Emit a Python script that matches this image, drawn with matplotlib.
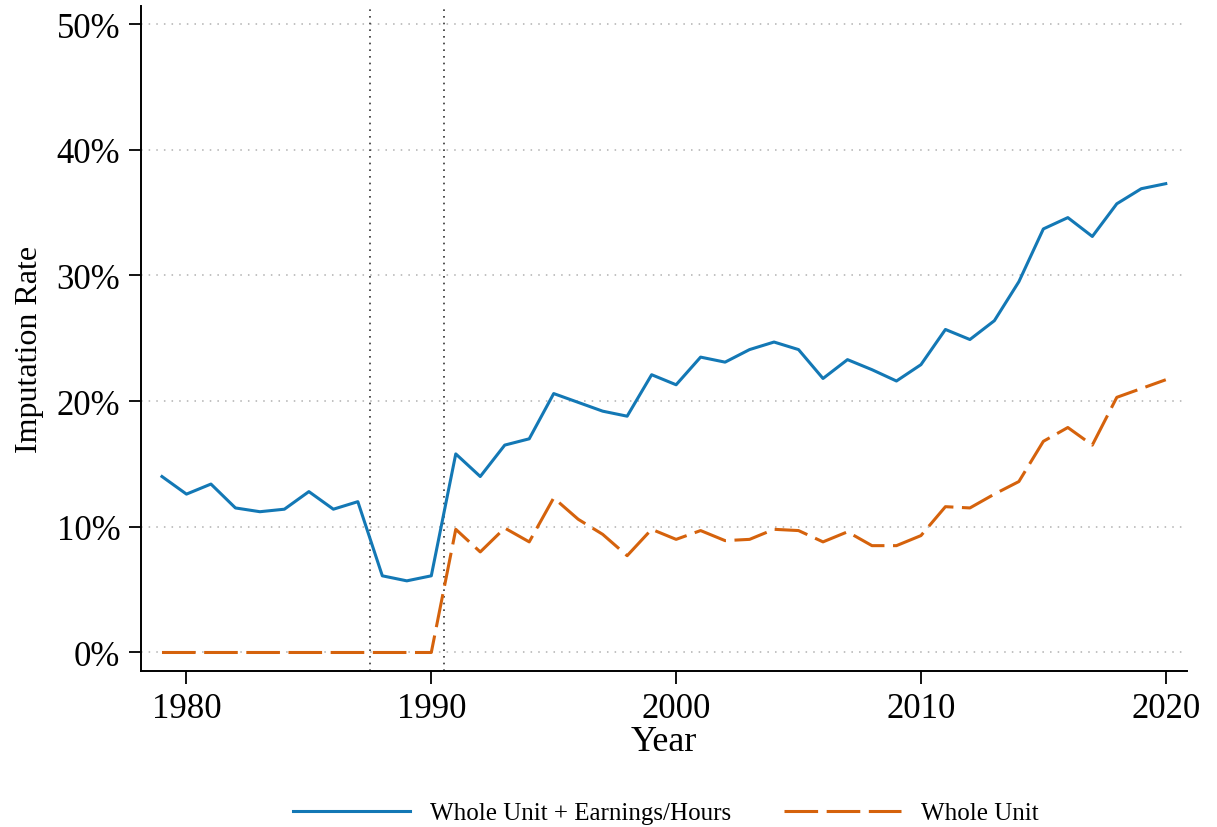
import matplotlib.pyplot as plt
from matplotlib.ticker import FuncFormatter

plt.rcParams['font.family'] = ['Liberation Serif', 'DejaVu Serif']

years = list(range(1979, 2021))

# Whole Unit + Earnings/Hours (%)
combined = [14.0, 12.6, 13.4, 11.5, 11.2, 11.4, 12.8, 11.4, 12.0, 6.1,
            5.7, 6.1, 15.8, 14.0, 16.5, 17.0, 20.6, 19.9, 19.2, 18.8,
            22.1, 21.3, 23.5, 23.1, 24.1, 24.7, 24.1, 21.8, 23.3, 22.5,
            21.6, 22.9, 25.7, 24.9, 26.4, 29.5, 33.7, 34.6, 33.1, 35.7,
            36.9, 37.3]

# Whole Unit (%)
whole_unit = [0, 0, 0, 0, 0, 0, 0, 0, 0, 0,
              0, 0, 9.8, 8.0, 9.9, 8.8, 12.3, 10.6, 9.4, 7.7,
              9.8, 9.0, 9.7, 8.9, 9.0, 9.8, 9.7, 8.8, 9.6, 8.5,
              8.5, 9.3, 11.6, 11.5, 12.6, 13.6, 16.8, 17.9, 16.5, 20.3,
              21.0, 21.7]

breaks = [1987.5, 1990.5]
yticks = [0, 10, 20, 30, 40, 50]
xticks = [1980, 1990, 2000, 2010, 2020]

fig = plt.figure(figsize=(12.17, 8.28), dpi=100)
ax = fig.add_axes([0.116, 0.188, 0.859, 0.803])

for yv in yticks:
    ax.axhline(yv, color='#b0b0b0', linestyle=(0, (1, 4)), linewidth=1.1, zorder=0)
for b in breaks:
    ax.axvline(b, color='#333333', linestyle=(0, (1, 3)), linewidth=1.2, zorder=1)

ax.plot(years, combined, color='#1378b5', linewidth=2.2, label='Whole Unit + Earnings/Hours')
ax.plot(years, whole_unit, color='#d5620c', linewidth=2.2, dashes=(11, 2.8),
        label='Whole Unit')

ax.set_xlim(1978.15, 2020.85)
ax.set_ylim(-1.5, 51.4)
ax.set_xticks(xticks)
ax.set_yticks(yticks)
ax.yaxis.set_major_formatter(FuncFormatter(lambda v, p: f'{v:.0f}%'))
ax.tick_params(labelsize=25, length=9, width=1.3, direction='out', pad=6)

for s in ['top', 'right']:
    ax.spines[s].set_visible(False)
for s in ['left', 'bottom']:
    ax.spines[s].set_linewidth(1.4)

ax.set_xlabel('Year', fontsize=26, labelpad=0)
ax.set_ylabel('Imputation Rate', fontsize=23)
ax.yaxis.set_label_coords(-0.093, 0.485)

fig.legend(loc='lower center', bbox_to_anchor=(0.547, -0.024), ncol=2, frameon=False,
           fontsize=18, handlelength=4.7, columnspacing=2.1, handletextpad=0.8)

plt.savefig('out.png', dpi=100)
